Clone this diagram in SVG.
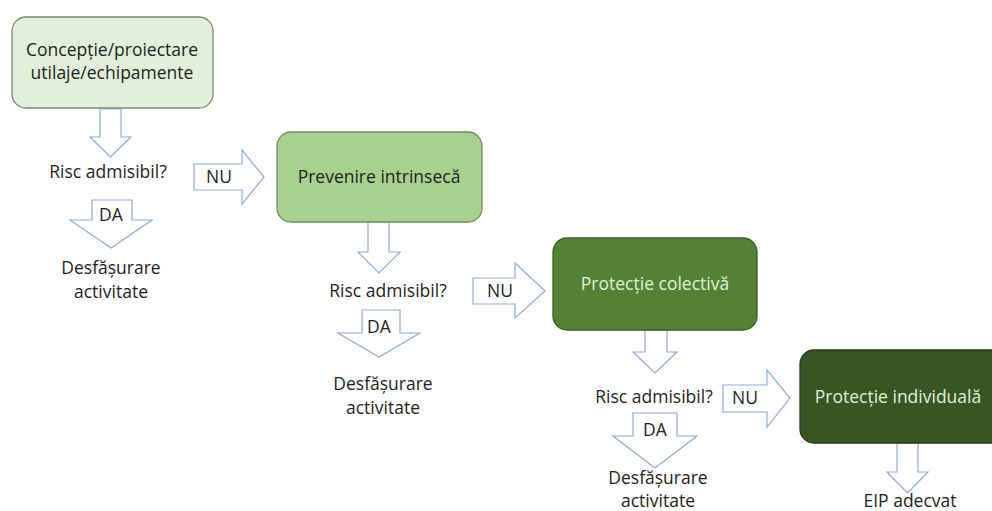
<svg xmlns="http://www.w3.org/2000/svg" width="992" height="511" viewBox="0 0 992 511">
<style>
text{font-family:"Open Sans","Noto Sans","Liberation Sans",sans-serif;font-size:17.5px;fill:#1e1e1e;text-anchor:middle}
.lt{fill:#e2f0d9}
.arr{fill:#ffffff;stroke:#8faadc;stroke-width:1.2;stroke-linejoin:miter}
.b1{fill:#e2efda;stroke:#7a8c6e;stroke-width:1.3}
.b2{fill:#a9d18e;stroke:#6f8f5a;stroke-width:1.3}
.b3{fill:#548235;stroke:#3b5e26;stroke-width:1.3}
.b4{fill:#375623;stroke:#263f17;stroke-width:1.3}
</style>
<rect width="992" height="511" fill="#ffffff"/>
<g id="connectors">
  <polygon class="arr" points="100,109 121,109 121,137 131,137 110.5,157 90,137 100,137"/>
  <polygon class="arr" points="194,164 242,164 242,150 264,177 242,204 242,190 194,190"/>
  <polygon class="arr" points="92,200 132,200 132,220 152,220 111,248 70,220 92,220"/>
  <polygon class="arr" points="368,222 389,222 389,252 400,252 379,273 358,252 368,252"/>
  <polygon class="arr" points="473,278 515,278 515,263 545,291 515,318 515,304 473,304"/>
  <polygon class="arr" points="362,310 400,310 400,333 420,333 379,357 338,333 362,333"/>
  <polygon class="arr" points="645,330 667,330 667,352 677,352 655,373 633,352 645,352"/>
  <polygon class="arr" points="723,385 767,385 767,370 790,398 767,427 767,412 723,412"/>
  <polygon class="arr" points="633,413 677,413 677,436 697,436 655,468 613,436 633,436"/>
  <polygon class="arr" points="897,443 918,443 918,472 928,472 907.5,493 887,472 897,472"/>
  <text x="219" y="183">NU</text>
  <text x="500" y="297">NU</text>
  <text x="745" y="404">NU</text>
  <text x="111" y="221">DA</text>
  <text x="379" y="333">DA</text>
  <text x="655" y="436">DA</text>
</g>
<g id="node-conceptie">
  <rect class="b1" x="12" y="17" width="201" height="91" rx="14"/>
  <text x="112" y="56">Concepție/proiectare</text>
  <text x="112" y="79">utilaje/echipamente</text>
</g>
<g id="node-risc1"><text x="108" y="178">Risc admisibil?</text></g>
<g id="node-desf1">
  <text x="111" y="274">Desfășurare</text>
  <text x="111" y="298">activitate</text>
</g>
<g id="node-prevenire">
  <rect class="b2" x="277" y="132" width="205" height="90" rx="14"/>
  <text x="379" y="183">Prevenire intrinsecă</text>
</g>
<g id="node-risc2"><text x="388" y="297">Risc admisibil?</text></g>
<g id="node-desf2">
  <text x="383" y="390">Desfășurare</text>
  <text x="383" y="414">activitate</text>
</g>
<g id="node-colectiva">
  <rect class="b3" x="553" y="238" width="204" height="92" rx="14"/>
  <text class="lt" x="655" y="290">Protecție colectivă</text>
</g>
<g id="node-risc3"><text x="654" y="403">Risc admisibil?</text></g>
<g id="node-desf3">
  <text x="658" y="484">Desfășurare</text>
  <text x="658" y="507">activitate</text>
</g>
<g id="node-individuala">
  <rect class="b4" x="800" y="350" width="215" height="93" rx="14"/>
  <text class="lt" x="898" y="403">Protecție individuală</text>
</g>
<g id="node-eip"><text x="910" y="507">EIP adecvat</text></g>
</svg>
